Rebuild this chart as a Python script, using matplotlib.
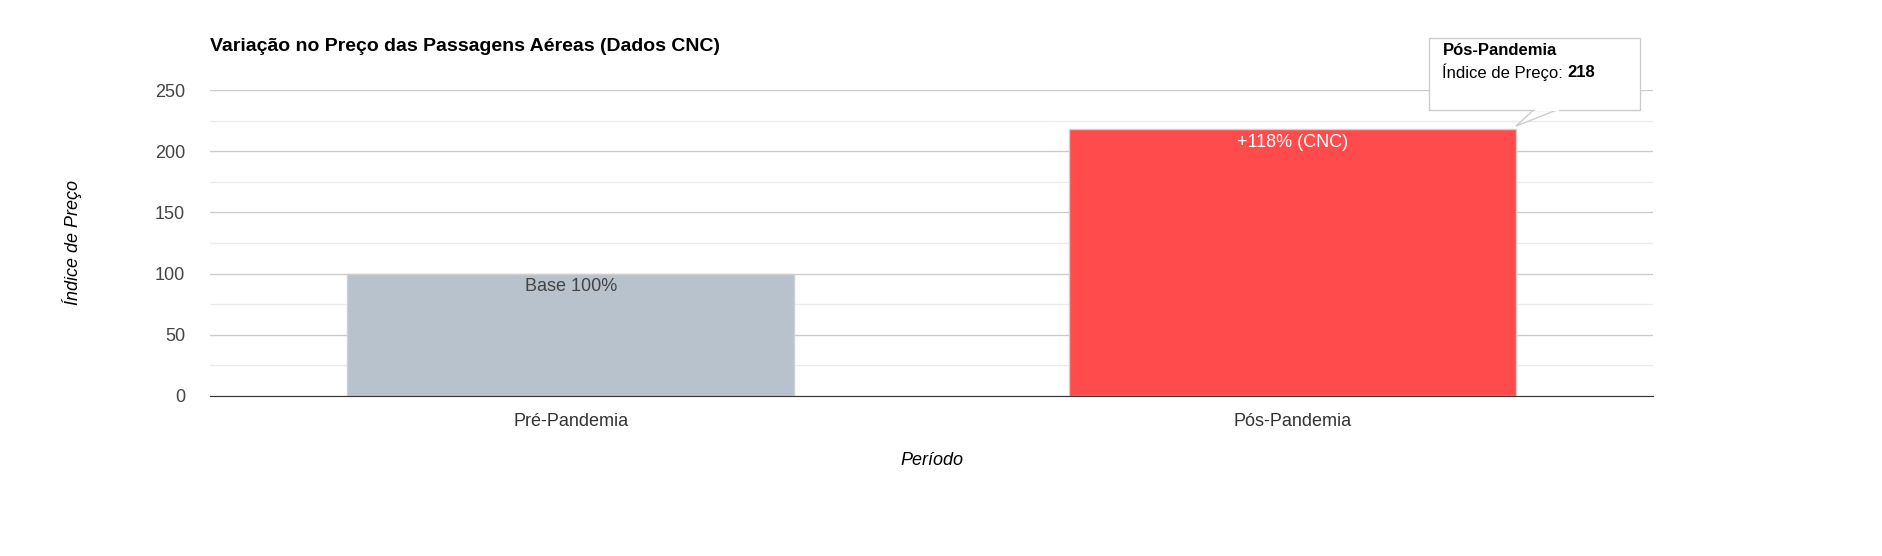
import matplotlib
matplotlib.use("Agg")
import matplotlib.pyplot as plt
from matplotlib.patches import Rectangle, Polygon

categories = ["Pré-Pandemia", "Pós-Pandemia"]
values = [100, 218]
labels = ["Base 100%", "+118% (CNC)"]
colors = ["#b8c2cc", "#ff4b4b"]

plt.rcParams['font.family'] = ['Liberation Sans', 'DejaVu Sans']
fig = plt.figure(figsize=(18.83, 5.56), dpi=100)
ax = fig.add_axes([0.1115, 0.288, 0.7665, 0.55])
x = list(range(len(categories)))
bars = ax.bar(x, values, width=0.62, color=colors, edgecolor="#d0d0d0", linewidth=1, zorder=3)
ax.set_xlim(-0.5, 1.5)
ax.set_ylim(0, 250)
ax.set_yticks(range(0, 251, 50))
ax.set_yticks(range(25, 251, 50), minor=True)
ax.grid(axis='y', which='major', color='#cccccc', lw=1, zorder=0)
ax.grid(axis='y', which='minor', color='#ebebeb', lw=1, zorder=0)
ax.tick_params(axis='y', which='both', length=0, labelsize=13, colors='#444444', pad=18)
ax.tick_params(axis='x', length=0, labelsize=13, colors='#333333', pad=12)
ax.set_xticks(x)
ax.set_xticklabels(categories)
for s in ['top', 'right', 'left']:
    ax.spines[s].set_visible(False)
ax.spines['bottom'].set_color('#333333')
ax.spines['bottom'].set_zorder(4)
txtcol = ["#444444", "white"]
for xi, v, l, c in zip(x, values, labels, txtcol):
    ax.text(xi, v - 4, l, ha='center', va='top', fontsize=13, color=c, zorder=5)

fig.text(0.1115, 0.917, "Variação no Preço das Passagens Aéreas (Dados CNC)", fontsize=14, fontweight='bold', va='center')
fig.text(0.038, 0.563, "Índice de Preço", rotation=90, fontsize=13, style='italic', ha='center', va='center')
fig.text(0.495, 0.171, "Período", fontsize=13, style='italic', ha='center', va='center')

# tooltip
bx0, by0, bx1, by1 = 0.759, 0.802, 0.871, 0.932
fig.patches.append(Polygon([[0.815, by0 + 0.002], [0.828, by0 + 0.002], [0.805, 0.773]], closed=True,
                           transform=fig.transFigure, facecolor='white', edgecolor='#cccccc', zorder=10))
fig.patches.append(Rectangle((bx0, by0), bx1 - bx0, by1 - by0, transform=fig.transFigure,
                             facecolor='white', edgecolor='#cccccc', zorder=11))
fig.patches.append(Rectangle((0.8152, by0 - 0.002), 0.0126, 0.006, transform=fig.transFigure,
                             facecolor='white', edgecolor='none', zorder=12))
fig.text(0.766, 0.91, "Pós-Pandemia", fontsize=12, fontweight='bold', va='center', zorder=13)
t = fig.text(0.766, 0.87, "Índice de Preço: ", fontsize=12, va='center', zorder=13)
fig.canvas.draw()
bb = t.get_window_extent().transformed(fig.transFigure.inverted())
fig.text(bb.x1, 0.87, "218", fontsize=12, fontweight='bold', va='center', zorder=13)

fig.savefig("out.png", dpi=100)
